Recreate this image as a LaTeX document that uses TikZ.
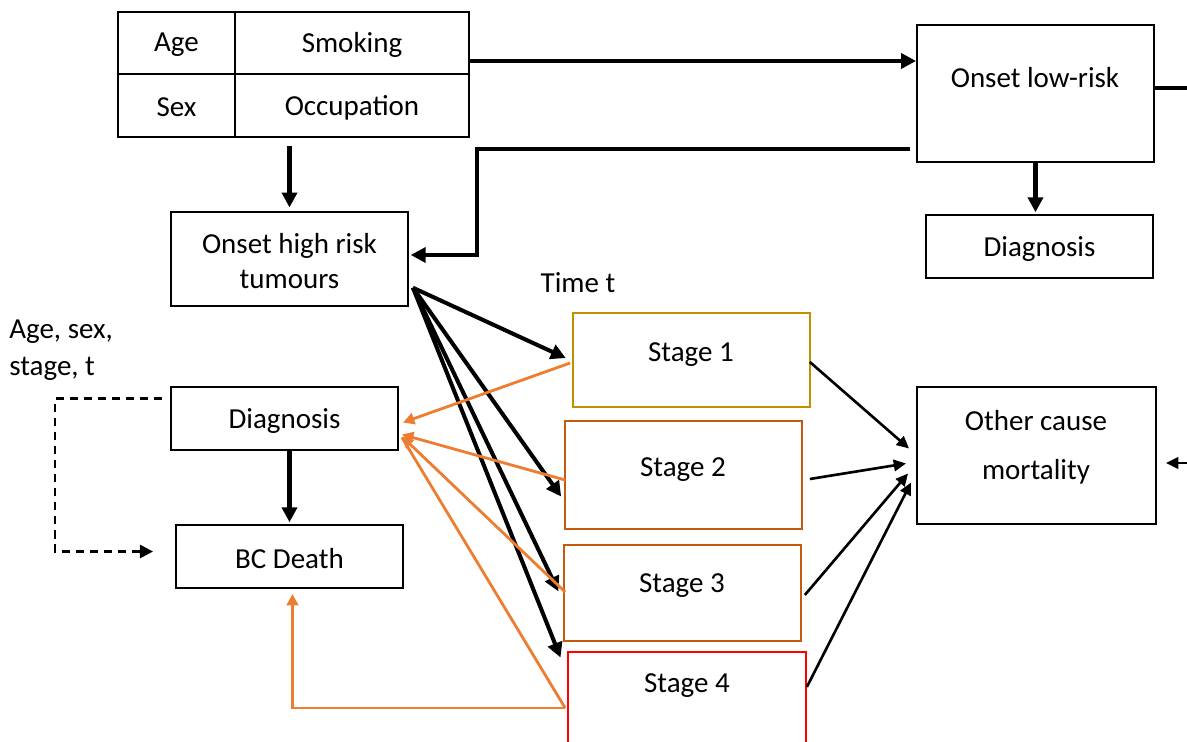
\documentclass[tikz,border=0pt]{standalone}
\usepackage{fontspec}
\setmainfont{Carlito}
\usetikzlibrary{arrows.meta,calc,fit}
\definecolor{gold}{HTML}{C09000}
\definecolor{dorange}{HTML}{C55A11}
\definecolor{lorange}{HTML}{ED7D31}
\tikzset{
  box/.style={draw, line width=1.1pt, inner sep=0pt},
  sbox/.style={draw, line width=0.95pt, inner sep=0pt},
  txt/.style={inner sep=0pt, yshift=-1.2pt, font=\fontsize{16.5}{20}\selectfont},
  bigarr/.style={line width=2.3pt, -{Triangle[length=8.5pt,width=8.5pt]}},
  thinarr/.style={line width=1.5pt, -{Triangle[length=7pt,width=6.5pt]}},
  orarr/.style={lorange, line width=1.6pt, -{Triangle[length=6.5pt,width=6.5pt]}},
  dasharr/.style={line width=1.4pt, dash pattern=on 4.6pt off 3.4pt, -{Triangle[length=7.5pt,width=7.5pt]}},
}
\begin{document}
\begin{tikzpicture}[x=0.02cm,y=-0.02cm]
\useasboundingbox (0,0) rectangle (1187,742);
\clip (0,0) rectangle (1187,742);
\fill[white] (0,0) rectangle (1187,742);
% table
\node[box, fit={(118,12)(235,74)}] (age) {};
\node[txt] (aget) at (age.center) {Age};
\node[box, fit={(235,12)(469,74)}] (smk) {};
\node[txt] (smkt) at (smk.center) {Smoking};
\node[box, fit={(118,74)(235,137)}] (sex) {};
\node[txt] (sext) at (sex.center) {Sex};
\node[box, fit={(235,74)(469,137)}] (occ) {};
\node[txt] (occt) at (occ.center) {Occupation};
\node[inner sep=0pt, fit={(118,12)(469,137)}] (tbl) {};
% main boxes
\node[box, fit={(171,212)(408,306)}] (oh) {};
\node[txt, align=center] (oht) at (oh.center) {Onset high risk\\tumours};
\node[box, fit={(917,25)(1154,162)}] (ol) {};
\node[txt] (olt) at (1035,75) {Onset low-risk};
\node[box, fit={(926,215)(1153,278)}] (dr) {};
\node[txt] (drt) at (dr.center) {Diagnosis};
\node[box, fit={(171,387)(398,450)}] (dl) {};
\node[txt] (dlt) at (dl.center) {Diagnosis};
\node[box, fit={(176,525)(403,588)}] (bc) {};
\node[txt] (bct) at (bc.center) {BC Death};
\node[sbox, draw=gold, fit={(573,313)(810,407)}] (s1) {};
\node[txt] (s1t) at (691,352) {Stage 1};
\node[sbox, draw=dorange, fit={(565,421)(802,529)}] (s2) {};
\node[txt] (s2t) at (683,467) {Stage 2};
\node[sbox, draw=dorange, fit={(564,545)(801,641)}] (s3) {};
\node[txt] (s3t) at (682,583) {Stage 3};
\node[sbox, draw=red, fit={(568,652)(806,760)}] (s4) {};
\node[txt] (s4t) at (687,683) {Stage 4};
\node[box, fit={(917,387)(1156,524)}] (oc) {};
\node[txt] (oct1) at (1036,418) {Other cause};
\node[txt] (oct2) at (1036,470) {mortality};
\node[txt] (time) at (578,281) {Time t};
\node[txt, anchor=west, align=left, font=\fontsize{16.5}{21}\selectfont] (cov) at (9,348) {Age, sex,\\stage, t};
\coordinate (rout) at (1200,88);
\coordinate (rin) at (1200,463);
% arrows top
\draw[bigarr, shorten <=5pt, shorten >=2pt] (oh.north |- tbl.south) -- (oh.north);
\draw[bigarr] ($(smk.east)+(0,18)$) coordinate (a1) -- (a1 -| ol.west);
\draw[bigarr, shorten >=1pt] ($(ol.south west)+(-6,-14)$) -| ($(oh.east)+(68,-4)$) -- ($(oh.east)+(0,-4)$);
\draw[line width=2.3pt] (ol.east |- rout) -- (rout);
\draw[bigarr, shorten >=1pt] (ol.south) -- (ol.south |- dr.north);
% fan from onset high
\coordinate (fan) at ($(oh.north east)!0.8!(oh.south east)+(4,0)$);
\draw[bigarr, shorten >=4pt] (fan) -- ($(s1.west)+(0,1)$);
\draw[bigarr, shorten >=1pt] (fan) -- ($(s2.west)+(-2,23)$);
\draw[bigarr, shorten >=1pt] (fan) -- ($(s3.west)+(-4,0)$);
\draw[bigarr, shorten >=1pt] (fan) -- ($(s4.north west)+(-6,8)$);
% orange
\draw[orarr] ($(s1.west)+(-2,3)$) -- ($(dl.east)+(4,4)$);
\draw[orarr] ($(s2.west)+(1,5)$) -- ($(dl.east)+(3,16)$);
\draw[orarr] ($(s3.west)+(2,-1)$) -- ($(dl.east)+(3,18)$);
\draw[lorange, line width=1.6pt] ($(s4.west)+(-2,2)$) -- ($(dl.east)+(3,19)$);
\draw[orarr] ($(s4.west)+(-2,2)$) -| ($(bc.south)+(3,5)$);
% left column
\draw[bigarr, shorten >=1pt] (bc.north |- dl.south) -- (bc.north);
\draw[dasharr] ($(dl.west)+(-8,-20)$) -| ($(bc.west)+(-120,-5)$) -- ($(bc.west)+(-22,-5)$);
% to other cause
\draw[thinarr] ($(s1.east)+(-1,2)$) -- ($(oc.west)+(-7,-7)$);
\draw[thinarr] ($(s2.east)+(7,4)$) -- ($(oc.west)+(-10,8)$);
\draw[thinarr] ($(s3.east)+(3,2)$) -- ($(oc.west)+(-8,18)$);
\draw[thinarr] ($(s4.east)+(0,-19)$) -- ($(oc.west)+(-5,27)$);
\draw[thinarr] (rin) -- ($(oc.east)+(9,7.5)$);
\end{tikzpicture}
\end{document}
